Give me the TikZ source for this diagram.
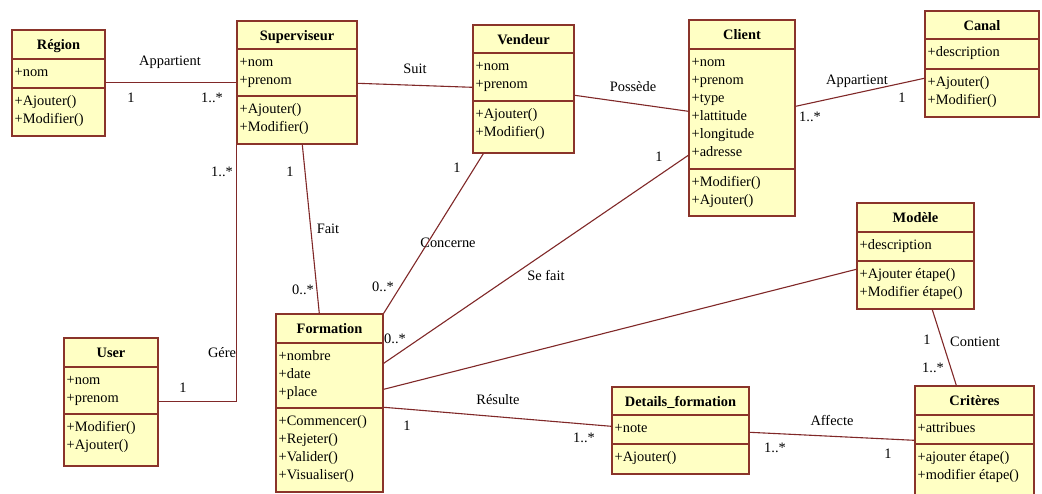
\documentclass[tikz,border=0pt]{standalone}
\usepackage{fontspec}
\setmainfont{Liberation Serif}
\usetikzlibrary{fit}

\definecolor{boxfill}{RGB}{255,255,196}
\definecolor{boxline}{RGB}{138,52,42}
\definecolor{assoc}{RGB}{128,40,40}

\tikzset{
  classbox/.style={draw=boxline, fill=boxfill, line width=1.4pt, inner sep=0pt},
  divider/.style={draw=boxline, line width=1.4pt},
  classtitle/.style={font=\fontsize{14.4}{18}\selectfont\bfseries, anchor=base, inner sep=0pt},
  members/.style={font=\fontsize{14.4}{18}\selectfont, align=left, anchor=north west, inner sep=0pt},
  assocline/.style={draw=assoc, line width=1.1pt},
  lbl/.style={font=\fontsize{14.4}{18}\selectfont, inner sep=0pt},
}

% UML class frame: name, left, right, top, first divider, second divider, bottom, title
\newcommand{\umlclass}[8]{%
  \coordinate (#1-nw) at (#2,#4);
  \coordinate (#1-se) at (#3,#7);
  \node[classbox, fit=(#1-nw)(#1-se)] (#1) {};
  \draw[divider] (#2,#5) -- (#3,#5);
  \draw[divider] (#2,#6) -- (#3,#6);
  \node[classtitle] (#1-title) at ({(#2+#3)/2},{#4+19}) {#8};
  \coordinate (#1-attrs) at ({#2+2.5},{#5+5});
  \coordinate (#1-ops) at ({#2+2.5},{#6+5});
}

\begin{document}
\begin{tikzpicture}[x=1pt, y=-1pt]
  \useasboundingbox (0,0) rectangle (1042,493);
  \fill[white] (0,0) rectangle (1042,493);
  \clip (0,0) rectangle (1042,493);

  % classes
  \umlclass{reg}{12}{105}{30}{59}{88}{136}{Région}
  \node[members] (reg-a) at (reg-attrs) {\strut+nom};
  \node[members] (reg-o) at (reg-ops) {\strut+Ajouter()\\+Modifier()};

  \umlclass{sup}{237}{357}{21}{49}{96}{144}{Superviseur}
  \node[members] (sup-a) at (sup-attrs) {\strut+nom\\+prenom};
  \node[members] (sup-o) at (sup-ops) {\strut+Ajouter()\\+Modifier()};

  \umlclass{ven}{473}{574}{25}{53}{101}{153}{Vendeur}
  \node[members] (ven-a) at (ven-attrs) {\strut+nom\\+prenom};
  \node[members] (ven-o) at (ven-ops) {\strut+Ajouter()\\+Modifier()};

  \umlclass{cli}{689}{795}{20}{49}{169}{216}{Client}
  \node[members] (cli-a) at (cli-attrs) {\strut+nom\\+prenom\\+type\\+lattitude\\+longitude\\+adresse};
  \node[members] (cli-o) at (cli-ops) {\strut+Modifier()\\+Ajouter()};

  \umlclass{can}{925}{1039}{11}{39}{69}{117}{Canal}
  \node[members] (can-a) at (can-attrs) {\strut+description};
  \node[members] (can-o) at (can-ops) {\strut+Ajouter()\\+Modifier()};

  \umlclass{mod}{857}{974}{203}{232}{261}{309}{Modèle}
  \node[members] (mod-a) at (mod-attrs) {\strut+description};
  \node[members] (mod-o) at (mod-ops) {\strut+Ajouter étape()\\+Modifier étape()};

  \umlclass{cri}{915}{1034}{386}{415}{444}{500}{Critères}
  \node[members] (cri-a) at (cri-attrs) {\strut+attribues};
  \node[members] (cri-o) at (cri-ops) {\strut+ajouter étape()\\+modifier étape()};

  \umlclass{usr}{64}{158}{338}{367}{414}{466}{User}
  \node[members] (usr-a) at (usr-attrs) {\strut+nom\\+prenom};
  \node[members] (usr-o) at (usr-ops) {\strut+Modifier()\\+Ajouter()};

  \umlclass{fmt}{276}{383}{314}{343}{408}{492}{Formation}
  \node[members] (fmt-a) at (fmt-attrs) {\strut+nombre\\+date\\+place};
  \node[members] (fmt-o) at (fmt-ops) {\strut+Commencer()\\+Rejeter()\\+Valider()\\+Visualiser()};

  \umlclass{det}{612}{749}{387}{415}{444}{474}{Details\_formation}
  \node[members] (det-a) at (det-attrs) {\strut+note};
  \node[members] (det-o) at (det-ops) {\strut+Ajouter()};

  % associations
  \draw[assocline] ([yshift=-53pt]reg.north east) -- ([yshift=-62pt]sup.north west);
  \draw[assocline] ([yshift=-63pt]sup.north east) -- ([yshift=-63pt]ven.north west);
  \draw[assocline] ([yshift=-71pt]ven.north east) -- ([yshift=-92pt]cli.north west);
  \draw[assocline] ([yshift=-87pt]cli.north east) -- ([yshift=-68pt]can.north west);
  \draw[assocline] (sup.south west) |- ([yshift=-64pt]usr.north east);
  \draw[assocline] ([xshift=66pt]sup.south west) -- ([xshift=44pt]fmt.north west);
  \draw[assocline] ([xshift=11pt]ven.south west) -- (fmt.north east);
  \draw[assocline] ([yshift=-136pt]cli.north west) -- ([yshift=-50pt]fmt.north east);
  \draw[assocline] ([yshift=-76pt]fmt.north east) -- ([yshift=-67pt]mod.north west);
  \draw[assocline] ([yshift=-94pt]fmt.north east) -- ++(25pt,-2pt) -- ([yshift=-40pt]det.north west);
  \draw[assocline] ([yshift=-46pt]det.north east) -- ([yshift=-55pt]cri.north west);
  \draw[assocline] ([xshift=76pt]mod.south west) -- ([xshift=42pt]cri.north west);

  % association names and multiplicities
  \node[lbl] (l-app1) at (170,62) {Appartient};
  \node[lbl] (m-app1a) at (131,98) {1};
  \node[lbl] (m-app1b) at (212,98) {1..*};
  \node[lbl] (l-suit) at (415,69) {Suit};
  \node[lbl] (l-poss) at (633,87) {Possède};
  \node[lbl] (l-app2) at (857,81) {Appartient};
  \node[lbl] (m-app2a) at (902,98) {1};
  \node[lbl] (m-app2b) at (810,117) {1..*};
  \node[lbl] (m-gere1) at (222,172) {1..*};
  \node[lbl] (l-gere) at (222,353) {Gére};
  \node[lbl] (m-gere2) at (183,388) {1};
  \node[lbl] (l-fait) at (328,229) {Fait};
  \node[lbl] (m-fait1) at (290,172) {1};
  \node[lbl] (m-fait2) at (303,290) {0..*};
  \node[lbl] (m-conc1) at (457,168) {1};
  \node[lbl] (l-conc) at (448,243) {Concerne};
  \node[lbl] (m-conc2) at (383,287) {0..*};
  \node[lbl] (m-sef1) at (659,157) {1};
  \node[lbl] (l-sef) at (546,275) {Se fait};
  \node[lbl] (m-sef2) at (395,339) {0..*};
  \node[lbl] (l-res) at (498,400) {Résulte};
  \node[lbl] (m-res1) at (407,426) {1};
  \node[lbl] (m-res2) at (584,438) {1..*};
  \node[lbl] (l-aff) at (832,420) {Affecte};
  \node[lbl] (m-aff1) at (775,448) {1..*};
  \node[lbl] (m-aff2) at (888,454) {1};
  \node[lbl] (l-cont) at (975,342) {Contient};
  \node[lbl] (m-cont1) at (927,340) {1};
  \node[lbl] (m-cont2) at (933,368) {1..*};
\end{tikzpicture}
\end{document}
